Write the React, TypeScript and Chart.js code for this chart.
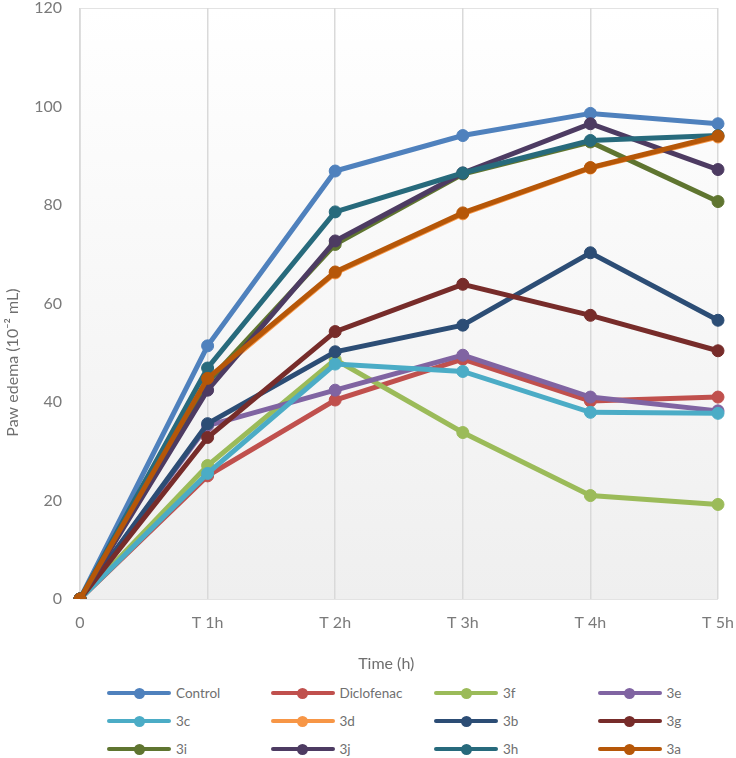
import React, { useEffect, useRef } from "react";
import { Chart, registerables } from "chart.js";

Chart.register(...registerables);

const timeLabels = ["0", "T 1h", "T 2h", "T 3h", "T 4h", "T 5h"];

const seriesNames = ["Control", "Diclofenac", "3f", "3e", "3c", "3d", "3b", "3g", "3i", "3j", "3h", "3a"];

const seriesColors = [
  "#4F81BD", "#C0504D", "#9BBB59", "#8064A2", "#4BACC6", "#F79646",
  "#2C4D75", "#772C2A", "#5F7530", "#4D3B62", "#276A7C", "#B65708",
];

const control = [0, 51.4, 86.9, 94.1, 98.6, 96.5];
const diclofenac = [0, 25.0, 40.4, 48.7, 40.2, 41.0];
const s3f = [0, 27.1, 48.6, 33.8, 21.0, 19.2];
const s3e = [0, 35.2, 42.4, 49.5, 41.0, 38.2];
const s3c = [0, 25.5, 47.7, 46.2, 37.9, 37.7];
const s3d = [0, 44.5, 66.2, 78.2, 87.5, 93.8];
const s3b = [0, 35.6, 50.2, 55.6, 70.3, 56.6];
const s3g = [0, 32.8, 54.3, 63.9, 57.6, 50.4];
const s3i = [0, 44.0, 72.0, 86.3, 92.8, 80.7];
const s3j = [0, 42.4, 72.7, 86.5, 96.5, 87.2];
const s3h = [0, 46.9, 78.6, 86.5, 93.1, 94.1];
const s3a = [0, 44.8, 66.4, 78.4, 87.6, 94.0];

const seriesValues = [control, diclofenac, s3f, s3e, s3c, s3d, s3b, s3g, s3i, s3j, s3h, s3a];

const yTitle = "Paw edema (10\u207B\u00B2 mL)";
const xTitle = "Time (h)";
const FONT = "Lato, 'Open Sans', sans-serif";

// Plot-area gradient fill, frame, and the two axis titles
const plotDecor = {
  id: "plotDecor",
  beforeDraw(chart: any) {
    const { ctx, chartArea } = chart;
    const { left, top, right, bottom } = chartArea;
    ctx.save();
    const g = ctx.createLinearGradient(0, top, 0, bottom);
    g.addColorStop(0, "#ffffff");
    g.addColorStop(1, "#efefef");
    ctx.fillStyle = g;
    ctx.fillRect(left, top, right - left, bottom - top);
    ctx.strokeStyle = "#e3e3e3";
    ctx.lineWidth = 1;
    ctx.strokeRect(left + 0.5, top + 0.5, right - left - 1, bottom - top);
    ctx.restore();
  },
  afterDraw(chart: any) {
    const { ctx, chartArea } = chart;
    ctx.save();
    ctx.fillStyle = "#6f6f6f";
    ctx.font = `16px ${FONT}`;
    ctx.textAlign = "center";
    ctx.textBaseline = "middle";
    ctx.fillText(xTitle, chartArea.left + chartArea.width * 0.48, 664);
    ctx.translate(13, chartArea.top + chartArea.height * 0.6);
    ctx.rotate(-Math.PI / 2);
    ctx.fillText(yTitle, 0, 0);
    ctx.restore();
  },
};

export default function App() {
  const canvasRef = useRef<HTMLCanvasElement | null>(null);

  useEffect(() => {
    if (!canvasRef.current) return;
    const n = seriesNames.length;
    const chart = new Chart(canvasRef.current, {
      type: "line",
      data: {
        labels: timeLabels,
        datasets: seriesNames.map((name, i) => ({
          label: name,
          data: seriesValues[i],
          borderColor: seriesColors[i],
          backgroundColor: seriesColors[i],
          pointBackgroundColor: seriesColors[i],
          pointBorderColor: seriesColors[i],
          borderWidth: 5,
          pointRadius: 6,
          pointBorderWidth: 1,
          tension: 0,
          fill: false,
          order: n - i,
        })),
      },
      options: {
        animation: false,
        responsive: false,
        maintainAspectRatio: false,
        layout: { padding: { top: 8, right: 18, left: 0, bottom: 0 } },
        plugins: {
          legend: { display: false },
          tooltip: { enabled: false },
        },
        scales: {
          x: {
            type: "category",
            offset: false,
            grid: { display: true, color: "#d9d9d9", lineWidth: 1.5, drawTicks: false },
            border: { display: false },
            ticks: { color: "#7a7a7a", font: { family: FONT, size: 16 }, padding: 14, maxRotation: 0 },
            afterFit(scale: any) {
              scale.height = 81;
              scale.paddingLeft = 0;
              scale.paddingRight = 0;
            },
          },
          y: {
            min: 0,
            max: 120,
            grid: { display: false, drawTicks: false },
            border: { display: false },
            ticks: { stepSize: 20, color: "#7a7a7a", font: { family: FONT, size: 16 }, padding: 18 },
            afterFit(scale: any) {
              scale.width = 80;
              scale.paddingTop = 0;
              scale.paddingBottom = 0;
            },
          },
        },
      },
      plugins: [plotDecor],
    });
    return () => chart.destroy();
  }, []);

  const colStart = 107;
  const colStep = 163.5;
  const rowTop = 693;
  const rowStep = 28;

  return (
    <div style={{ position: "absolute", left: 0, top: 0, width: 736, height: 758, background: "#fff" }}>
      <canvas ref={canvasRef} width={736} height={680} style={{ display: "block", width: 736, height: 680 }} />
      {seriesNames.map((name, i) => {
        const col = i % 4;
        const row = Math.floor(i / 4);
        return (
          <div
            key={name}
            style={{
              position: "absolute",
              left: colStart + col * colStep,
              top: rowTop + row * rowStep - 10,
              height: 20,
              display: "flex",
              alignItems: "center",
              fontFamily: FONT,
              fontSize: 13.5,
              color: "#6f6f6f",
            }}
          >
            <div style={{ position: "relative", width: 64, height: 12, marginRight: 5 }}>
              <div style={{ position: "absolute", left: 0, right: 0, top: 4, height: 4, borderRadius: 2, background: seriesColors[i] }} />
              <div style={{ position: "absolute", left: 26.5, top: 0.5, width: 11, height: 11, borderRadius: "50%", background: seriesColors[i] }} />
            </div>
            <span>{name}</span>
          </div>
        );
      })}
    </div>
  );
}
